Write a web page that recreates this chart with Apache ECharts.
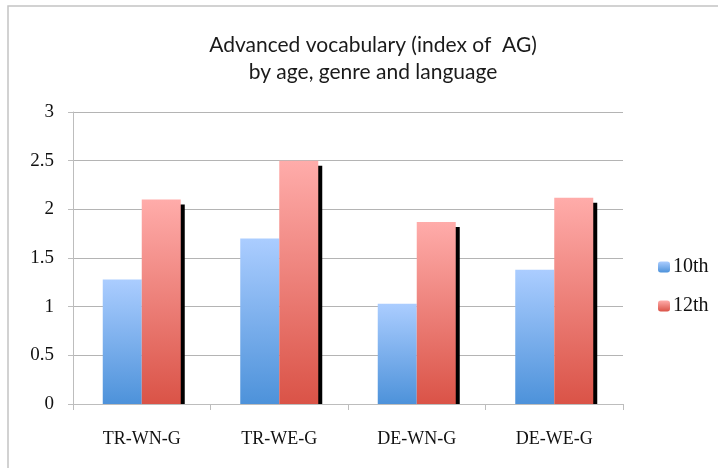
<!DOCTYPE html>
<html>
<head>
<meta charset="utf-8">
<script src="https://cdn.jsdelivr.net/npm/echarts@6/dist/echarts.min.js"></script>
<style>
  html, body { margin: 0; padding: 0; background: #fff; }
  #main { width: 718px; height: 468px; }
</style>
</head>
<body>
<div id="main"></div>
<script>
// data
var groups = ['TR-WN-G', 'TR-WE-G', 'DE-WN-G', 'DE-WE-G'];
var grade10 = [1.28, 1.70, 1.03, 1.38];
var grade12 = [2.10, 2.50, 1.87, 2.12];
var yTicks = [0, 0.5, 1, 1.5, 2, 2.5, 3];

var barW = 39;

var chart = echarts.init(document.getElementById('main'));

function grad(top, bottom) {
    return new echarts.graphic.LinearGradient(0, 0, 0, 1, [
        { offset: 0, color: top },
        { offset: 1, color: bottom }
    ]);
}

var option = {
    animation: false,
    backgroundColor: '#fff',
    title: {
        text: 'Advanced vocabulary (index of  AG)\nby age, genre and language',
        left: 368,
        top: 27,
        textAlign: 'center',
        textStyle: {
            fontFamily: 'Lato',
            fontWeight: 'normal',
            fontSize: 21,
            lineHeight: 27,
            color: '#1a1a1a'
        }
    },
    graphic: [
        {
            type: 'text',
            left: 38,
            top: -22,
            style: {
                text: 'Advanced vocabulary (index of AG) by age, genre and language',
                font: '21px "Liberation Serif"',
                fill: '#111'
            }
        },
        {
            type: 'polyline',
            shape: { points: [[8, 480], [8, 6], [730, 6]] },
            style: { stroke: '#c4c4c4', lineWidth: 1.5, fill: null }
        }
    ],
    legend: {
        data: ['10th', '12th'],
        orient: 'vertical',
        left: 653,
        top: 252,
        itemWidth: 12,
        itemHeight: 11,
        itemGap: 19,
        textStyle: {
            fontFamily: 'Liberation Serif',
            fontSize: 20,
            color: '#111',
            padding: [0, 0, 0, -2]
        }
    },
    grid: {
        left: 73,
        right: 95,
        top: 112,
        bottom: 64
    },
    xAxis: {
        type: 'category',
        data: groups,
        axisLine: { lineStyle: { color: '#bdbdbd', width: 1 } },
        axisTick: { show: true, length: 6, lineStyle: { color: '#bdbdbd' } },
        axisLabel: {
            margin: 26,
            fontFamily: 'Liberation Serif',
            fontSize: 18,
            color: '#111'
        }
    },
    yAxis: {
        type: 'value',
        min: 0,
        max: 3,
        interval: 0.5,
        axisLine: { show: true, lineStyle: { color: '#bdbdbd', width: 1 } },
        axisTick: { show: true, length: 5, lineStyle: { color: '#bdbdbd' } },
        splitLine: { lineStyle: { color: '#b4b4b4', width: 1 } },
        axisLabel: {
            margin: 19,
            fontFamily: 'Liberation Serif',
            fontSize: 19,
            color: '#111',
            formatter: function (v) {
                return yTicks.indexOf(v) >= 0 ? String(v) : '';
            }
        }
    },
    series: [
        {
            name: '10th',
            type: 'bar',
            data: grade10,
            barWidth: barW,
            barGap: '0%',
            itemStyle: { color: grad('#abcdff', '#4d92da') }
        },
        {
            name: '12th',
            type: 'bar',
            data: grade12,
            barWidth: barW,
            z: 3,
            itemStyle: { color: grad('#ffacaa', '#da5347') }
        },
        {
            // dark drop shadow on the right side of the 12th bars
            name: 'shadow',
            type: 'custom',
            z: 1,
            data: grade12.map(function (v, i) { return [i, v]; }),
            renderItem: function (params, api) {
                var top = api.coord([api.value(0), api.value(1)]);
                var base = api.coord([api.value(0), 0]);
                return {
                    type: 'rect',
                    shape: {
                        x: top[0] + barW - 1,
                        y: top[1] + 5,
                        width: 5,
                        height: base[1] - top[1] - 5
                    },
                    style: { fill: '#000' }
                };
            }
        }
    ]
};

chart.setOption(option);
</script>
</body>
</html>
